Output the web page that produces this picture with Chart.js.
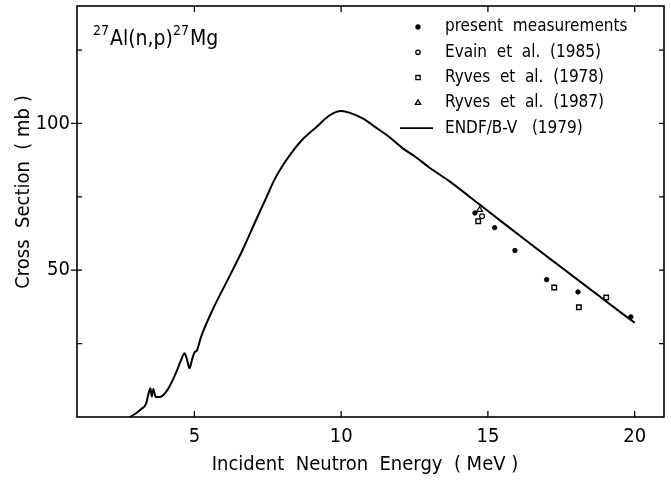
<!DOCTYPE html>
<html>
<head>
<meta charset="utf-8">
<script src="https://cdn.jsdelivr.net/npm/chart.js@4.4.1/dist/chart.umd.min.js"></script>
<style>
  html, body { margin: 0; padding: 0; background: #fff; }
  #wrap { width: 671px; height: 481px; }
</style>
</head>
<body>
<div id="wrap"><canvas id="chart" width="671" height="481"></canvas></div>
<script>
// ENDF/B-V (1979) evaluated curve, energy in MeV, cross section in mb
const endfE = [2.8, 3.0, 3.2, 3.35, 3.45, 3.5, 3.55, 3.6, 3.68, 3.85, 4.1, 4.35, 4.55, 4.66, 4.75, 4.83, 4.92, 5.0, 5.08, 5.23, 5.62, 6.19, 6.64, 7.1, 7.44, 7.72, 8.0, 8.34, 8.65, 9.15, 9.6, 10.0, 10.3, 10.75, 11.2, 11.65, 12.1, 12.55, 13.0, 13.65, 14.7, 15.5, 16.5, 17.5, 18.5, 19.5, 20.0];
const endfXS = [0, 1.2, 2.8, 4.5, 8.5, 9.8, 7.0, 9.5, 6.8, 6.9, 9.5, 14.5, 19.5, 21.7, 19.5, 16.6, 19.5, 22.0, 22.6, 27.4, 36.5, 47.8, 56.9, 67.1, 74.5, 80.7, 85.5, 90.4, 94.2, 98.7, 102.7, 104.2, 103.6, 101.6, 98.5, 95.3, 91.5, 88.5, 85, 80.6, 72.5, 66.3, 58.6, 51, 43.4, 35.8, 32.1];

// present measurements
const presentE = [14.56, 15.23, 15.92, 17.0, 18.07, 19.87];
const presentXS = [69.5, 64.5, 56.7, 46.8, 42.6, 34.1];
// Evain et al. (1985)
const evainE = [14.8];
const evainXS = [68.4];
// Ryves et al. (1978)
const ryves78E = [14.67, 17.26, 18.1, 19.03];
const ryves78XS = [66.7, 44.1, 37.4, 40.7];
// Ryves et al. (1987)
const ryves87E = [14.72];
const ryves87XS = [70.6];

const xTicks = [5, 10, 15, 20];
const yTicks = [25, 50, 75, 100, 125];
const yLabelled = [50, 100];

const FONT = "'DejaVu Sans Condensed', 'Liberation Sans Narrow', 'DejaVu Sans', sans-serif";

function pts(xs, ys) {
    return xs.map((x, i) => ({ x: x, y: ys[i] }));
}

// frame, inward ticks, titles and the legend
const decor = {
    id: 'decor',
    afterDraw(chart) {
        const ctx = chart.ctx;
        const a = chart.chartArea;
        const xs = chart.scales.x;
        const ys = chart.scales.y;
        ctx.save();
        ctx.strokeStyle = '#000';
        ctx.lineWidth = 1.6;
        ctx.strokeRect(a.left, a.top, a.right - a.left, a.bottom - a.top);

        ctx.lineWidth = 1.3;
        ctx.beginPath();
        xTicks.forEach(v => {
            const px = xs.getPixelForValue(v);
            ctx.moveTo(px, a.bottom); ctx.lineTo(px, a.bottom - 6);
            ctx.moveTo(px, a.top); ctx.lineTo(px, a.top + 6);
        });
        yTicks.forEach(v => {
            const py = ys.getPixelForValue(v);
            const big = yLabelled.includes(v);
            ctx.moveTo(a.left - (big ? 6 : 0), py); ctx.lineTo(a.left + 5, py);
            ctx.moveTo(a.right, py); ctx.lineTo(a.right - 5, py);
        });
        ctx.stroke();

        ctx.fillStyle = '#000';
        // x title
        ctx.font = '20px ' + FONT;
        ctx.textAlign = 'center';
        ctx.textBaseline = 'middle';
        ctx.fillText('Incident  Neutron  Energy  ( MeV )', 365, 465);
        // y title
        ctx.save();
        ctx.translate(24, 192);
        ctx.rotate(-Math.PI / 2);
        ctx.fillText('Cross  Section  ( mb )', 0, 0);
        ctx.restore();

        // reaction label with superscripts
        ctx.textAlign = 'left';
        ctx.textBaseline = 'alphabetic';
        let x = 93;
        const base = 45;
        const parts = [['27', true], ['Al(n,p)', false], ['27', true], ['Mg', false]];
        parts.forEach(([t, sup]) => {
            ctx.font = (sup ? '14px ' : '21px ') + FONT;
            ctx.fillText(t, x, sup ? base - 10 : base);
            x += ctx.measureText(t).width + (sup ? 1 : 0);
        });

        // legend
        ctx.font = '17px ' + FONT;
        ctx.textBaseline = 'middle';
        chart.data.datasets.forEach((ds, i) => {
            const y = 27 + i * 25.3;
            if (ds.showLine) {
                ctx.lineWidth = 1.8;
                ctx.beginPath();
                ctx.moveTo(400, y); ctx.lineTo(433, y);
                ctx.stroke();
            } else {
                ctx.fillStyle = ds.pointBackgroundColor;
                Chart.helpers.drawPoint(ctx, {
                    pointStyle: ds.pointStyle,
                    radius: ds.legendRadius,
                    borderWidth: 1.2
                }, 418, y);
            }
            ctx.fillStyle = '#000';
            ctx.fillText(ds.label, 445, y);
        });
        ctx.restore();
    }
};

new Chart(document.getElementById('chart'), {
    type: 'scatter',
    data: {
        datasets: [
            {
                label: 'present  measurements',
                data: pts(presentE, presentXS),
                pointStyle: 'circle', pointRadius: 2.2, legendRadius: 2,
                pointBackgroundColor: '#000', pointBorderColor: '#000', pointBorderWidth: 1
            },
            {
                label: 'Evain  et  al.  (1985)',
                data: pts(evainE, evainXS),
                pointStyle: 'circle', pointRadius: 2.4, legendRadius: 2.2,
                pointBackgroundColor: '#fff', pointBorderColor: '#000', pointBorderWidth: 1.2
            },
            {
                label: 'Ryves  et  al.  (1978)',
                data: pts(ryves78E, ryves78XS),
                pointStyle: 'rect', pointRadius: 3.2, legendRadius: 3,
                pointBackgroundColor: '#fff', pointBorderColor: '#000', pointBorderWidth: 1.4
            },
            {
                label: 'Ryves  et  al.  (1987)',
                data: pts(ryves87E, ryves87XS),
                pointStyle: 'triangle', pointRadius: 3.2, legendRadius: 3,
                pointBackgroundColor: '#fff', pointBorderColor: '#000', pointBorderWidth: 1.2
            },
            {
                label: 'ENDF/B-V   (1979)',
                data: pts(endfE, endfXS),
                showLine: true,
                borderColor: '#000', borderWidth: 2,
                pointRadius: 0,
                cubicInterpolationMode: 'monotone'
            }
        ]
    },
    options: {
        responsive: false,
        animation: false,
        events: [],
        layout: { padding: { left: 0, right: 7, top: 6, bottom: 0 } },
        plugins: { legend: { display: false }, tooltip: { enabled: false } },
        scales: {
            x: {
                type: 'linear', min: 1, max: 21,
                afterFit: s => { s.height = 64; s.paddingLeft = 0; s.paddingRight = 0; },
                afterBuildTicks: s => { s.ticks = xTicks.map(v => ({ value: v })); },
                grid: { display: false, drawTicks: false },
                border: { display: false },
                ticks: { color: '#000', padding: 8, maxRotation: 0, font: { family: FONT, size: 20 } }
            },
            y: {
                type: 'linear', min: 0, max: 140,
                afterFit: s => { s.width = 77; s.paddingTop = 0; s.paddingBottom = 0; },
                afterBuildTicks: s => { s.ticks = yTicks.map(v => ({ value: v })); },
                grid: { display: false, drawTicks: false },
                border: { display: false },
                ticks: {
                    color: '#000', padding: 7, font: { family: FONT, size: 20 },
                    callback: v => yLabelled.includes(v) ? String(v) : ''
                }
            }
        }
    },
    plugins: [decor]
});
</script>
</body>
</html>
